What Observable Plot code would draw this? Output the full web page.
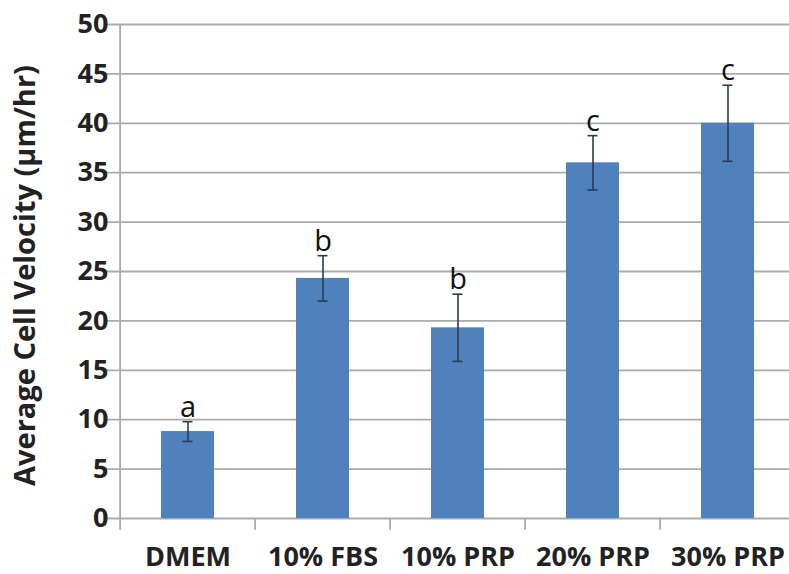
<!DOCTYPE html>
<html>
<head>
<meta charset="utf-8">
<script src="https://cdn.jsdelivr.net/npm/d3@7"></script>
<script src="https://cdn.jsdelivr.net/npm/@observablehq/plot@0.6"></script>
<style>
  html, body { margin: 0; padding: 0; background: #fff; overflow: hidden; }
  #chart svg { font-family: "Open Sans", sans-serif; display: block; }
</style>
</head>
<body>
<div id="chart"></div>
<script>
const categories = ["DMEM", "10% FBS", "10% PRP", "20% PRP", "30% PRP"];
const means = [8.8, 24.3, 19.3, 36.0, 40.0];
const errors = [1.0, 2.3, 3.4, 2.75, 3.85];
const letters = ["a", "b", "b", "c", "c"];
const yTicks = [0, 5, 10, 15, 20, 25, 30, 35, 40, 45, 50];
const yTitle = "Average Cell Velocity (µm/hr)";

const data = categories.map((c, i) => ({
  cat: c, mean: means[i], lo: means[i] - errors[i], hi: means[i] + errors[i], letter: letters[i]
}));

const W = 789, H = 574, mL = 118, mR = -8, mT = 24, mB = 56;
const step = (W - mL - mR) / categories.length;

const chart = Plot.plot({
  width: W,
  height: H,
  marginLeft: mL,
  marginRight: mR,
  marginTop: mT,
  marginBottom: mB,
  style: { fontFamily: "Open Sans, sans-serif", background: "#fff", overflow: "visible" },
  x: { domain: categories, paddingInner: 0.61, paddingOuter: 0.305, label: null },
  y: { domain: [0, 50], ticks: yTicks, label: null },
  marks: [
    Plot.ruleY(yTicks, { y: d => d, stroke: "#ababab", strokeWidth: 1.8, insetLeft: -12 }),
    Plot.ruleX([categories[0]], { x: d => d, dx: -step / 2, y1: -1.2, y2: 50, stroke: "#ababab", strokeWidth: 1.8 }),
    Plot.ruleX(categories.slice(1), { x: d => d, dx: -step / 2, y1: -1.2, y2: 0, stroke: "#ababab", strokeWidth: 1.8 }),
    Plot.barY(data, { x: "cat", y: "mean", fill: "#4f81bd" }),
    Plot.ruleX(data, { x: "cat", y1: "lo", y2: "hi", stroke: "#2c3a52", strokeWidth: 1.6 }),
    Plot.tickY(data, { x: "cat", y: "hi", stroke: "#2c3a52", strokeWidth: 1.6, insetLeft: 21.5, insetRight: 21.5 }),
    Plot.tickY(data, { x: "cat", y: "lo", stroke: "#2c3a52", strokeWidth: 1.6, insetLeft: 21.5, insetRight: 21.5 }),
    Plot.text(data, { x: "cat", y: "hi", text: "letter", dy: -5, lineAnchor: "bottom", fontSize: 29, fill: "#111" }),
    Plot.axisY({ ticks: yTicks, tickSize: 0, tickPadding: 10, fontSize: 27, fontWeight: "bold", label: null, fill: "#222" }),
    Plot.axisX({ tickSize: 0, tickPadding: 28, fontSize: 27, fontWeight: "bold", label: null, fill: "#222" }),
    Plot.text([yTitle], { text: d => d, frameAnchor: "left", dx: -104, dy: 4, rotate: -90, textAnchor: "middle", lineAnchor: "top", fontSize: 29, fontWeight: "bold", fill: "#222" })
  ]
});
document.getElementById("chart").append(chart);
</script>
</body>
</html>
